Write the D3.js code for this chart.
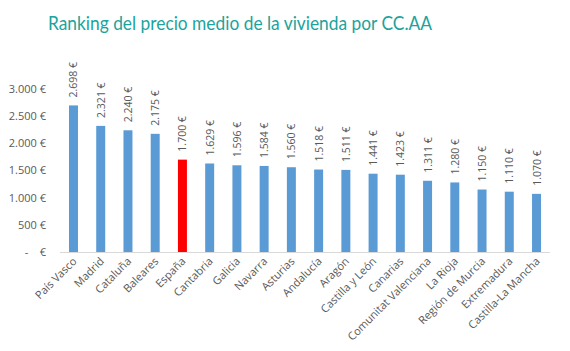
<!DOCTYPE html>
<html>
<head>
    <meta charset="utf-8">
    <script src="https://d3js.org/d3.v7.min.js"></script>
    <style type="text/css">
        body { margin: 0; background: #fff; }
        .title { font-family: Lato, sans-serif; font-size: 20px; fill: #1ba39c; }
        .tick-label, .value-label, .cat-label {
            font-family: "Open Sans", sans-serif;
            fill: #595959;
            white-space: pre;
        }
    </style>
</head>
<body>
    <div id="chart"></div>
    <script>
        const regions = ["País Vasco", "Madrid", "Cataluña", "Baleares", "España", "Cantabria", "Galicia",
            "Navarra", "Asturias", "Andalucía", "Aragón", "Castilla y León", "Canarias",
            "Comunitat Valenciana", "La Rioja", "Región de Murcia", "Extremadura", "Castilla-La Mancha"];
        const prices = [2698, 2321, 2240, 2175, 1700, 1629, 1596, 1584, 1560, 1518, 1511, 1441, 1423,
            1311, 1280, 1150, 1110, 1070];
        const yTicks = [0, 500, 1000, 1500, 2000, 2500, 3000];

        const width = 570, height = 351;
        const margin = { top: 89, right: 20, bottom: 99, left: 60 };
        const plotW = 490, baseY = 252;

        const fmt = v => v === 0 ? "-    €" : d3.format(",")(v).replace(/,/g, ".") + " €";

        const svg = d3.select("#chart").append("svg")
            .attr("width", width)
            .attr("height", height);

        svg.append("text")
            .attr("class", "title")
            .attr("x", 48)
            .attr("y", 30)
            .attr("textLength", 384)
            .attr("lengthAdjust", "spacingAndGlyphs")
            .text("Ranking del precio medio de la vivienda por CC.AA");

        const x = d3.scaleBand()
            .domain(regions)
            .range([margin.left, margin.left + plotW])
            .paddingInner(0.67)
            .paddingOuter(0.33);

        const y = d3.scaleLinear()
            .domain([0, 3000])
            .range([baseY, margin.top]);

        // y tick labels
        svg.append("g")
            .selectAll("text")
            .data(yTicks)
            .join("text")
            .attr("class", "tick-label")
            .attr("x", 46)
            .attr("y", d => y(d))
            .attr("dy", "0.35em")
            .attr("text-anchor", "end")
            .style("font-size", "11px")
            .text(fmt);

        // bars
        svg.append("g")
            .selectAll("rect")
            .data(regions)
            .join("rect")
            .attr("x", d => x(d))
            .attr("width", x.bandwidth())
            .attr("y", (d, i) => y(prices[i]))
            .attr("height", (d, i) => baseY - y(prices[i]))
            .attr("fill", d => d === "España" ? "#ff0000" : "#5b9bd5");

        // baseline
        svg.append("line")
            .attr("x1", margin.left)
            .attr("x2", margin.left + plotW)
            .attr("y1", baseY + 0.5)
            .attr("y2", baseY + 0.5)
            .attr("stroke", "#d9d9d9");

        // value labels
        svg.append("g")
            .selectAll("text")
            .data(regions)
            .join("text")
            .attr("class", "value-label")
            .style("font-size", "10.5px")
            .attr("transform", (d, i) =>
                `translate(${x(d) + x.bandwidth() / 2 + 4},${y(prices[i]) - 8}) rotate(-90)`)
            .text((d, i) => fmt(prices[i]));

        // category labels
        svg.append("g")
            .selectAll("text")
            .data(regions)
            .join("text")
            .attr("class", "cat-label")
            .style("font-size", "11px")
            .attr("text-anchor", "end")
            .attr("transform", d =>
                `translate(${x(d) + x.bandwidth() / 2 + 4},${baseY + 10}) rotate(-45)`)
            .text(d => d);
    </script>
</body>
</html>
